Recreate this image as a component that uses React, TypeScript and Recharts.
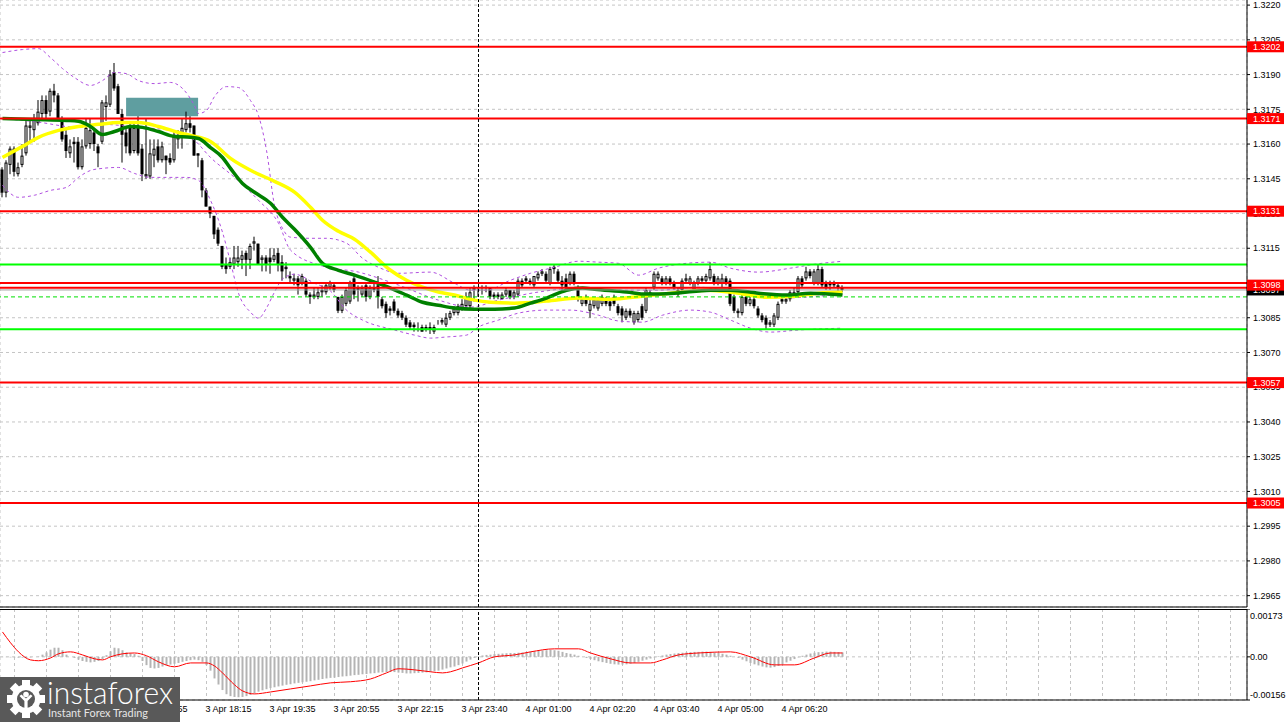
import React from "react";
import { Bar, CartesianGrid, ComposedChart, Line, ReferenceArea, ReferenceLine, XAxis, YAxis } from "recharts";

const FONT = '"Liberation Sans", Arial, sans-serif';

// 5 minute candles, bar 0 is the first one on the left
const opens = [
  1.3149, 1.3139, 1.3151, 1.3158, 1.3147, 1.3151, 1.3156, 1.3167, 1.3166, 1.3169,
  1.3173, 1.3179, 1.3174, 1.3183, 1.3181, 1.3171, 1.3164, 1.3156, 1.3161, 1.3161,
  1.3150, 1.3159, 1.3160, 1.3165, 1.3159, 1.3161, 1.3176, 1.3177, 1.3191, 1.3185,
  1.3173, 1.3165, 1.3168, 1.3157, 1.3168, 1.3158, 1.3146, 1.3146, 1.3155, 1.3159,
  1.3153, 1.3155, 1.3154, 1.3153, 1.3162, 1.3164, 1.3166, 1.3169, 1.3168, 1.3156,
  1.3153, 1.3140, 1.3133, 1.3129, 1.3123, 1.3116, 1.3108, 1.3107, 1.3108, 1.3109,
  1.3110, 1.3113, 1.3110, 1.3117, 1.3117, 1.3110, 1.3111, 1.3111, 1.3110, 1.3113,
  1.3109, 1.3106, 1.3103, 1.3101, 1.3102, 1.3100, 1.3101, 1.3095, 1.3094, 1.3094,
  1.3096, 1.3096, 1.3098, 1.3099, 1.3094, 1.3088, 1.3091, 1.3092, 1.3102, 1.3098,
  1.3095, 1.3099, 1.3094, 1.3098, 1.3099, 1.3093, 1.3091, 1.3089, 1.3092, 1.3088,
  1.3087, 1.3085, 1.3083, 1.3082, 1.3080, 1.3081, 1.3080, 1.3081, 1.3079, 1.3083,
  1.3083, 1.3082, 1.3085, 1.3087, 1.3087, 1.3089, 1.3090, 1.3090, 1.3097, 1.3097,
  1.3097, 1.3098, 1.3098, 1.3095, 1.3095, 1.3093, 1.3095, 1.3097, 1.3094, 1.3095,
  1.3101, 1.3102, 1.3101, 1.3099, 1.3102, 1.3104, 1.3104, 1.3100, 1.3106, 1.3105,
  1.3101, 1.3102, 1.3100, 1.3104, 1.3098, 1.3091, 1.3093, 1.3088, 1.3090, 1.3089,
  1.3091, 1.3093, 1.3092, 1.3094, 1.3090, 1.3089, 1.3085, 1.3088, 1.3083, 1.3084,
  1.3090, 1.3088, 1.3095, 1.3098, 1.3102, 1.3102, 1.3100, 1.3102, 1.3100, 1.3097,
  1.3097, 1.3101, 1.3100, 1.3097, 1.3100, 1.3102, 1.3101, 1.3102, 1.3103, 1.3100,
  1.3100, 1.3102, 1.3101, 1.3094, 1.3087, 1.3087, 1.3094, 1.3091, 1.3093, 1.3089,
  1.3086, 1.3085, 1.3082, 1.3082, 1.3085, 1.3093, 1.3092, 1.3093, 1.3095, 1.3096,
  1.3102, 1.3102, 1.3105, 1.3100, 1.3100, 1.3106, 1.3100, 1.3100, 1.3100, 1.3099, 1.3098,
];
const highs = [
  1.3150, 1.3153, 1.3159, 1.3159, 1.3152, 1.3160, 1.3171, 1.3171, 1.3173, 1.3179,
  1.3181, 1.3181, 1.3184, 1.3186, 1.3182, 1.3172, 1.3166, 1.3162, 1.3163, 1.3163,
  1.3162, 1.3171, 1.3171, 1.3167, 1.3160, 1.3179, 1.3181, 1.3192, 1.3195, 1.3186,
  1.3175, 1.3167, 1.3169, 1.3169, 1.3172, 1.3160, 1.3171, 1.3162, 1.3162, 1.3162,
  1.3161, 1.3155, 1.3156, 1.3166, 1.3166, 1.3171, 1.3174, 1.3172, 1.3168, 1.3156,
  1.3154, 1.3141, 1.3133, 1.3129, 1.3124, 1.3116, 1.3111, 1.3111, 1.3116, 1.3116,
  1.3114, 1.3114, 1.3117, 1.3120, 1.3117, 1.3112, 1.3112, 1.3115, 1.3115, 1.3115,
  1.3112, 1.3109, 1.3105, 1.3104, 1.3103, 1.3104, 1.3102, 1.3096, 1.3098, 1.3098,
  1.3099, 1.3100, 1.3101, 1.3100, 1.3094, 1.3095, 1.3098, 1.3101, 1.3104, 1.3099,
  1.3099, 1.3100, 1.3099, 1.3101, 1.3103, 1.3094, 1.3092, 1.3090, 1.3093, 1.3089,
  1.3088, 1.3086, 1.3084, 1.3083, 1.3083, 1.3082, 1.3082, 1.3083, 1.3082, 1.3084,
  1.3085, 1.3087, 1.3088, 1.3090, 1.3091, 1.3093, 1.3096, 1.3098, 1.3099, 1.3098,
  1.3099, 1.3099, 1.3098, 1.3096, 1.3096, 1.3096, 1.3098, 1.3097, 1.3097, 1.3102,
  1.3102, 1.3103, 1.3102, 1.3103, 1.3105, 1.3106, 1.3105, 1.3107, 1.3108, 1.3106,
  1.3103, 1.3104, 1.3105, 1.3105, 1.3099, 1.3094, 1.3095, 1.3093, 1.3094, 1.3094,
  1.3095, 1.3094, 1.3093, 1.3095, 1.3091, 1.3090, 1.3089, 1.3089, 1.3088, 1.3088,
  1.3091, 1.3098, 1.3097, 1.3105, 1.3105, 1.3103, 1.3103, 1.3103, 1.3101, 1.3098,
  1.3102, 1.3104, 1.3103, 1.3101, 1.3103, 1.3103, 1.3104, 1.3109, 1.3104, 1.3103,
  1.3104, 1.3103, 1.3102, 1.3095, 1.3089, 1.3096, 1.3095, 1.3094, 1.3094, 1.3090,
  1.3087, 1.3086, 1.3084, 1.3087, 1.3092, 1.3094, 1.3094, 1.3097, 1.3098, 1.3103,
  1.3103, 1.3107, 1.3106, 1.3106, 1.3108, 1.3107, 1.3101, 1.3101, 1.3101, 1.3100, 1.3099,
];
const lows = [
  1.3137, 1.3137, 1.3147, 1.3146, 1.3146, 1.3150, 1.3155, 1.3161, 1.3161, 1.3168,
  1.3171, 1.3170, 1.3172, 1.3178, 1.3170, 1.3161, 1.3154, 1.3154, 1.3152, 1.3149,
  1.3149, 1.3158, 1.3158, 1.3157, 1.3150, 1.3160, 1.3170, 1.3176, 1.3183, 1.3173,
  1.3152, 1.3156, 1.3155, 1.3156, 1.3155, 1.3144, 1.3145, 1.3145, 1.3150, 1.3152,
  1.3152, 1.3147, 1.3151, 1.3152, 1.3158, 1.3158, 1.3165, 1.3165, 1.3155, 1.3150,
  1.3137, 1.3133, 1.3128, 1.3119, 1.3116, 1.3106, 1.3104, 1.3106, 1.3106, 1.3107,
  1.3106, 1.3103, 1.3106, 1.3114, 1.3108, 1.3105, 1.3105, 1.3104, 1.3109, 1.3105,
  1.3101, 1.3102, 1.3100, 1.3099, 1.3095, 1.3099, 1.3094, 1.3091, 1.3093, 1.3093,
  1.3094, 1.3095, 1.3097, 1.3096, 1.3087, 1.3087, 1.3090, 1.3091, 1.3093, 1.3092,
  1.3094, 1.3092, 1.3093, 1.3096, 1.3089, 1.3089, 1.3085, 1.3086, 1.3087, 1.3085,
  1.3084, 1.3081, 1.3080, 1.3079, 1.3079, 1.3079, 1.3079, 1.3078, 1.3078, 1.3082,
  1.3082, 1.3081, 1.3084, 1.3086, 1.3086, 1.3088, 1.3089, 1.3089, 1.3092, 1.3094,
  1.3095, 1.3096, 1.3093, 1.3093, 1.3093, 1.3093, 1.3094, 1.3093, 1.3093, 1.3094,
  1.3098, 1.3100, 1.3099, 1.3098, 1.3101, 1.3103, 1.3100, 1.3099, 1.3104, 1.3100,
  1.3097, 1.3097, 1.3099, 1.3099, 1.3092, 1.3090, 1.3090, 1.3085, 1.3089, 1.3088,
  1.3090, 1.3090, 1.3088, 1.3090, 1.3086, 1.3083, 1.3084, 1.3085, 1.3082, 1.3083,
  1.3084, 1.3087, 1.3094, 1.3097, 1.3101, 1.3099, 1.3099, 1.3099, 1.3097, 1.3094,
  1.3096, 1.3100, 1.3099, 1.3096, 1.3099, 1.3100, 1.3100, 1.3101, 1.3099, 1.3099,
  1.3098, 1.3099, 1.3090, 1.3087, 1.3085, 1.3086, 1.3090, 1.3090, 1.3089, 1.3085,
  1.3083, 1.3080, 1.3081, 1.3081, 1.3084, 1.3091, 1.3091, 1.3092, 1.3094, 1.3095,
  1.3098, 1.3101, 1.3102, 1.3099, 1.3099, 1.3098, 1.3097, 1.3097, 1.3098, 1.3096, 1.3096,
];
const closes = [
  1.3139, 1.3152, 1.3158, 1.3148, 1.3150, 1.3155, 1.3168, 1.3168, 1.3171, 1.3174,
  1.3179, 1.3173, 1.3183, 1.3181, 1.3171, 1.3162, 1.3157, 1.3159, 1.3160, 1.3150,
  1.3159, 1.3167, 1.3166, 1.3160, 1.3156, 1.3178, 1.3178, 1.3190, 1.3184, 1.3173,
  1.3164, 1.3159, 1.3156, 1.3167, 1.3156, 1.3147, 1.3147, 1.3156, 1.3158, 1.3153,
  1.3159, 1.3153, 1.3152, 1.3164, 1.3164, 1.3167, 1.3169, 1.3167, 1.3155, 1.3155,
  1.3140, 1.3133, 1.3130, 1.3121, 1.3117, 1.3107, 1.3106, 1.3109, 1.3111, 1.3111,
  1.3112, 1.3110, 1.3116, 1.3118, 1.3108, 1.3111, 1.3108, 1.3109, 1.3112, 1.3108,
  1.3105, 1.3107, 1.3102, 1.3102, 1.3099, 1.3103, 1.3095, 1.3094, 1.3095, 1.3096,
  1.3097, 1.3099, 1.3100, 1.3097, 1.3088, 1.3094, 1.3097, 1.3100, 1.3095, 1.3097,
  1.3098, 1.3094, 1.3098, 1.3097, 1.3094, 1.3090, 1.3087, 1.3088, 1.3088, 1.3086,
  1.3085, 1.3082, 1.3081, 1.3081, 1.3080, 1.3079, 1.3081, 1.3080, 1.3081, 1.3083,
  1.3084, 1.3085, 1.3087, 1.3089, 1.3090, 1.3091, 1.3094, 1.3096, 1.3098, 1.3097,
  1.3097, 1.3098, 1.3094, 1.3094, 1.3094, 1.3095, 1.3097, 1.3094, 1.3096, 1.3101,
  1.3099, 1.3101, 1.3100, 1.3103, 1.3104, 1.3105, 1.3101, 1.3106, 1.3107, 1.3101,
  1.3099, 1.3098, 1.3104, 1.3100, 1.3093, 1.3093, 1.3091, 1.3091, 1.3093, 1.3093,
  1.3094, 1.3091, 1.3090, 1.3091, 1.3087, 1.3086, 1.3088, 1.3086, 1.3087, 1.3087,
  1.3085, 1.3097, 1.3096, 1.3104, 1.3104, 1.3100, 1.3102, 1.3100, 1.3098, 1.3095,
  1.3101, 1.3102, 1.3102, 1.3100, 1.3102, 1.3101, 1.3103, 1.3106, 1.3100, 1.3102,
  1.3102, 1.3100, 1.3091, 1.3088, 1.3088, 1.3094, 1.3091, 1.3093, 1.3090, 1.3086,
  1.3084, 1.3082, 1.3083, 1.3086, 1.3091, 1.3092, 1.3093, 1.3096, 1.3096, 1.3102,
  1.3099, 1.3105, 1.3103, 1.3105, 1.3106, 1.3099, 1.3098, 1.3099, 1.3099, 1.3098, 1.3097,
];

// indicator lines as [bar, value]
const maYellow = [
  [0, 1.31542], [5, 1.3159], [9, 1.31629], [14, 1.31659], [19, 1.31676], [24, 1.31685], [29, 1.31693],
  [34, 1.31693], [39, 1.31676], [44, 1.3165], [47, 1.31637], [52, 1.31611], [57, 1.31538], [63, 1.31478],
  [68, 1.31439], [73, 1.31392], [77, 1.31327], [80, 1.31271], [84, 1.31223], [88, 1.31189], [92, 1.31133],
  [97, 1.31055], [101, 1.31012], [105, 1.30982], [109, 1.30961], [113, 1.30948], [118, 1.30926],
  [122, 1.30917], [128, 1.30913], [136, 1.30922], [144, 1.30935], [152, 1.3093], [160, 1.30943],
  [167, 1.30956], [176, 1.30969], [184, 1.30956], [191, 1.30939], [198, 1.30943], [204, 1.30956], [210, 1.30961],
];
const maGreen = [
  [0, 1.3171], [8, 1.31706], [16, 1.31702], [19, 1.31698], [22, 1.31676], [25, 1.31641], [28, 1.31654],
  [32, 1.31676], [35, 1.31672], [39, 1.31654], [43, 1.31633], [47, 1.31629], [49, 1.31624], [52, 1.31585],
  [55, 1.31542], [57, 1.31495], [60, 1.3143], [63, 1.31392], [67, 1.31344], [70, 1.31284], [73, 1.31232],
  [77, 1.31154], [80, 1.31085], [84, 1.31055], [88, 1.31034], [93, 1.31004], [97, 1.30978], [101, 1.30948],
  [105, 1.30917], [109, 1.30904], [113, 1.30892], [118, 1.30887], [123, 1.30887], [128, 1.30892],
  [132, 1.30913], [136, 1.30935], [141, 1.30969], [145, 1.30978], [148, 1.30973], [156, 1.30961],
  [161, 1.30952], [168, 1.30956], [177, 1.30969], [182, 1.30969], [189, 1.30956], [196, 1.30948],
  [202, 1.30956], [210, 1.30948],
];
const bandUpper = [
  [0, 1.31995], [5, 1.32008], [9, 1.32012], [12, 1.31973], [15, 1.31926], [18, 1.31887], [22, 1.31853],
  [25, 1.31874], [28, 1.31909], [31, 1.31904], [34, 1.31874], [38, 1.31861], [42, 1.31866], [45, 1.3184],
  [48, 1.31766], [49, 1.31732], [51, 1.31745], [53, 1.31805], [56, 1.31848], [59, 1.31844], [62, 1.31788],
  [64, 1.31723], [66, 1.31573], [68, 1.31335], [70, 1.31236], [72, 1.31198], [77, 1.31193], [81, 1.31193],
  [86, 1.31172], [90, 1.31107], [94, 1.31068], [99, 1.31042], [107, 1.31047], [113, 1.30999], [117, 1.30969],
  [121, 1.30969], [127, 1.31012], [132, 1.31042], [138, 1.31068], [144, 1.31094], [149, 1.3109],
  [154, 1.31085], [159, 1.31034], [164, 1.31064], [171, 1.31085], [177, 1.3109], [182, 1.31064],
  [189, 1.31047], [197, 1.31064], [203, 1.31081], [210, 1.31094],
];
const bandMiddle = [
  [0, 1.3171], [8, 1.31697], [19, 1.31672], [25, 1.31685], [34, 1.31672], [42, 1.31659], [48, 1.31616],
  [52, 1.31542], [58, 1.31456], [64, 1.31357], [69, 1.31258], [72, 1.31142], [80, 1.31073], [89, 1.31047],
  [99, 1.30991], [109, 1.30926], [117, 1.30896], [124, 1.30926], [134, 1.30961], [144, 1.30978],
  [154, 1.30969], [164, 1.30969], [174, 1.30982], [184, 1.30956], [194, 1.30935], [210, 1.30952],
];
const bandLower = [
  [0, 1.31422], [4, 1.3137], [8, 1.31379], [12, 1.314], [16, 1.31413], [19, 1.31456], [22, 1.31486],
  [25, 1.31495], [29, 1.31499], [33, 1.31473], [37, 1.31456], [41, 1.31456], [46, 1.31456], [49, 1.31443],
  [52, 1.31357], [55, 1.31219], [57, 1.3109], [59, 1.30956], [62, 1.30874], [64, 1.30848], [66, 1.30892],
  [68, 1.30961], [70, 1.31017], [73, 1.31038], [78, 1.30999], [82, 1.30965], [86, 1.30883], [90, 1.3084],
  [98, 1.30797], [103, 1.30775], [107, 1.30762], [111, 1.30767], [116, 1.30775], [119, 1.3081],
  [124, 1.3084], [129, 1.3087], [136, 1.30883], [142, 1.30883], [149, 1.30861], [154, 1.30836],
  [160, 1.30831], [165, 1.30861], [172, 1.30883], [177, 1.30874], [182, 1.3084], [187, 1.30805],
  [192, 1.30788], [199, 1.30797], [210, 1.30805],
];

// MACD histogram, one value per bar
const macdHist = [
  -0.00001, -0.00001, -0.00002,
  -0.00002, -0.00003, -0.00003, -0.00003, -0.00002,
  0.0, 0.00001,
  0.00008, 0.00016, 0.00026, 0.00033, 0.00033, 0.00024,
  0.00008, 0.0, -0.00004,
  -0.0001, -0.00015, -0.00018, -0.0002, -0.00018, -0.00015, -0.00008,
  0.00006, 0.0002, 0.00033, 0.00031, 0.00024,
  0.00016, 0.00012, 0.0001, 0.00004,
  -0.00015, -0.0003, -0.0004, -0.00042, -0.0004, -0.00035, -0.0003, -0.00028,
  -0.00025, -0.00022, -0.00018, -0.00015, -0.00012, -0.0001, -0.00012, -0.00018,
  -0.0003, -0.0005, -0.00078, -0.001, -0.0012, -0.00135, -0.00142,
  -0.00145, -0.00146, -0.00145, -0.00142, -0.00138,
  -0.00132, -0.00126, -0.00121, -0.00117, -0.00113,
  -0.0011, -0.00107, -0.00104, -0.00101, -0.00099, -0.00096, -0.00094,
  -0.00092, -0.0009, -0.00088, -0.00085, -0.00083, -0.0008, -0.00078, -0.00076,
  -0.00075, -0.00073, -0.00071, -0.0007, -0.00068, -0.00066, -0.00065,
  -0.00063, -0.00062, -0.0006, -0.00059, -0.00057, -0.00056, -0.00055, -0.00054,
  -0.00055, -0.00057, -0.00058, -0.0006, -0.0006,
  -0.00059, -0.00058, -0.00057, -0.00056, -0.00054, -0.00052, -0.0005, -0.00046,
  -0.00042, -0.00038, -0.00035, -0.0003, -0.00024, -0.00017, -0.0001, -0.00004,
  0.00002, 0.00005, 0.00007, 0.00008, 0.0001,
  0.00011, 0.00012, 0.00013, 0.00014, 0.00014, 0.00015, 0.00016, 0.00017, 0.00019,
  0.0002, 0.00022, 0.00023, 0.00024, 0.00025, 0.00024, 0.00022,
  0.00018, 0.00014, 0.00011, 0.00008, 0.00004,
  0.0, -0.00004, -0.00008, -0.00012,
  -0.00016, -0.00019, -0.00022, -0.00025, -0.00027, -0.00028, -0.00028, -0.00027, -0.00025, -0.00022, -0.00018, -0.00014, -0.0001,
  -0.00006, -0.00002, 0.00002,
  0.00005, 0.00008, 0.0001, 0.00012, 0.00014, 0.00015,
  0.00016, 0.00017, 0.00018, 0.00018, 0.00019, 0.00019, 0.00018, 0.00016, 0.00014, 0.00011, 0.00008,
  0.00004, 0.0, -0.00004, -0.0001, -0.00016,
  -0.00022, -0.00027, -0.00031, -0.00035, -0.00038, -0.00039, -0.00037, -0.00033, -0.00027,
  -0.0002, -0.00014, -0.00008, -0.00002, 0.00004,
  0.00008, 0.00012, 0.00015, 0.00017, 0.00018, 0.00019, 0.00019, 0.00018, 0.00017, 0.00016,
];
const macdSignal = [
  [0, 0.0009], [2, 0.00051], [4, 0.00018], [7, -0.00011], [9, -0.00014], [12, -0.00004], [14, 0.00011],
  [17, 0.00018], [20, 0.00007], [23, -0.00007], [25, -0.00011], [27, 0.0], [30, 0.00011], [33, 0.00014],
  [36, 0.00004], [39, -0.00018], [43, -0.00036], [47, -0.00022], [51, -0.00022], [53, -0.00033],
  [55, -0.00058], [58, -0.00101], [60, -0.00123], [63, -0.00134], [67, -0.00127], [72, -0.00116],
  [77, -0.00105], [82, -0.00094], [87, -0.0009], [92, -0.0008], [96, -0.00058], [99, -0.00043],
  [103, -0.00047], [107, -0.00054], [110, -0.00058], [112, -0.00054], [115, -0.0004], [119, -0.00022],
  [123, 0.0], [128, 0.00007], [132, 0.00018], [138, 0.00029], [144, 0.00029], [147, 0.00014],
  [152, -0.00007], [157, -0.00022], [162, -0.00022], [165, -0.00011], [169, 0.00007], [174, 0.00014],
  [182, 0.00018], [187, 0.0], [193, -0.00029], [198, -0.00029], [203, -0.00004], [207, 0.00014], [210, 0.00014],
];

const priceTicks = [
  1.2965, 1.298, 1.2995, 1.301, 1.3025, 1.304, 1.3055, 1.307, 1.3085,
  1.31, 1.3115, 1.313, 1.3145, 1.316, 1.3175, 1.319, 1.3205, 1.322,
];
const macdTicks = [-0.00156, 0, 0.00173];
const gridBars = [
  3, 11, 19, 27, 35, 43, 51, 59, 67, 75, 83, 91, 99, 107, 115, 123, 131, 139, 147, 155,
  163, 171, 179, 187, 195, 203, 211, 219, 227, 235, 243, 251, 259, 267, 275, 283, 291, 299, 307,
];
const timeTickBars = [3, 19, 35, 51, 67, 83, 99, 115, 131, 147, 163, 179, 195];
const timeTickLabels = [
  "3 Apr 14:15", "3 Apr 15:35", "3 Apr 16:55", "3 Apr 18:15", "3 Apr 19:35", "3 Apr 20:55", "3 Apr 22:15",
  "3 Apr 23:40", "4 Apr 01:00", "4 Apr 02:20", "4 Apr 03:40", "4 Apr 05:00", "4 Apr 06:20",
];

const redLevels = [1.3202, 1.3171, 1.3131, 1.31, 1.3098, 1.3057, 1.3005];
const taggedRedLevels = [1.3202, 1.3171, 1.3131, 1.3098, 1.3057, 1.3005];
const greenLevels = [1.3108, 1.308];
const greenDashedLevel = 1.3094;
const bidPrice = 1.3097;
const zoneBars = [30.9, 48.9];
const zonePrices = [1.3172, 1.318];
const separatorBar = 119;

const X_DOMAIN: [number, number] = [-0.625, 311.125];
const PRICE_DOMAIN: [number, number] = [1.29601, 1.32222];
const MACD_DOMAIN: [number, number] = [-0.00156, 0.00173];
const NO_MARGIN = { top: 0, right: 0, bottom: 0, left: 0 };

const candles = opens.map((o, i) => ({ i, o, h: highs[i], l: lows[i], c: closes[i] }));
const macdRows = macdHist.map((hist, i) => ({ i, hist }));
const rows = (pts: number[][]) => pts.map(([i, v]) => ({ i, v }));

function Candle(props: any) {
  const { x, y, width, height, payload } = props;
  const { o, h, l, c } = payload;
  const cx = x + width / 2;
  const k = h === l ? 0 : height / (h - l);
  const top = y + (h - Math.max(o, c)) * k;
  const bot = y + (h - Math.min(o, c)) * k;
  const bodyH = Math.max(bot - top, 1);
  return (
    <g>
      <line x1={cx} x2={cx} y1={y} y2={y + height} stroke="#000" strokeWidth={1} />
      {c >= o ? (
        <rect x={cx - 1} y={top + 0.5} width={2} height={Math.max(bodyH - 1, 0)} fill="#fff" stroke="#000" strokeWidth={1} />
      ) : (
        <rect x={cx - 1.5} y={top} width={3} height={bodyH} fill="#000" />
      )}
    </g>
  );
}

function PriceTick({ x, y, payload }: any) {
  return (
    <text x={x} y={y} dy="0.355em" fontSize={9} fontFamily={FONT} fill="#000" textAnchor="start">
      {Number(payload.value).toFixed(4)}
    </text>
  );
}

function MacdTick({ x, y, payload }: any) {
  const v = Number(payload.value);
  const label = v === 0 ? "0.00" : v.toFixed(5);
  const shift = v > 0 ? 7 : v < 0 ? -5 : 0;
  return (
    <text x={x - 3} y={y + shift} dy="0.355em" fontSize={9} fontFamily={FONT} fill="#000" textAnchor="start">
      {label}
    </text>
  );
}

function TimeTick({ x, y, payload }: any) {
  const k = timeTickBars.indexOf(payload.value);
  if (k < 0) return <g />;
  return (
    <text x={x - 1} y={y} dy="0.71em" fontSize={9} fontFamily={FONT} fill="#000" textAnchor="start">
      {timeTickLabels[k]}
    </text>
  );
}

function PriceTag({ viewBox, text, bg, shift = 0 }: any) {
  if (!viewBox) return null;
  const x = viewBox.x + viewBox.width;
  const y = viewBox.y + shift;
  return (
    <g>
      <rect x={x} y={y - 5.5} width={37} height={11} fill={bg} />
      <text x={x + 6} y={y} dy="0.355em" fontSize={9} fontFamily={FONT} fill="#fff">
        {text}
      </text>
    </g>
  );
}

function Logo() {
  return (
    <div style={{ position: "absolute", left: 0, top: 677, width: 180, height: 45, background: "#595959", zIndex: 5 }}>
      <svg width={180} height={45}>
        <g transform="translate(26,22)">
          {[0, 45, 90, 135, 180, 225, 270, 315].map((a) => (
            <rect key={a} x={-4} y={-19} width={8} height={8} fill="#fff" transform={`rotate(${a})`} />
          ))}
          <circle r={14.5} fill="#fff" />
          <circle r={9} fill="#595959" />
          <circle cx={0} cy={-4.5} r={2.8} fill="#fff" />
          <path d="M-6.5 -3 L-1.6 2 L-1.6 9.5 L1.6 9.5 L1.6 2 L6.5 -3 L4.6 -4.5 L0 -0.5 L-4.6 -4.5 Z" fill="#fff" />
        </g>
        <text x={47} y={27} fill="#fff" fontFamily="Lato, 'Open Sans', sans-serif" fontWeight={300} fontSize={31}
          textLength={126} lengthAdjust="spacingAndGlyphs">instaforex</text>
        <text x={48} y={40} fill="#e6e6e6" fontFamily="Lato, 'Open Sans', sans-serif" fontSize={11}
          textLength={100} lengthAdjust="spacingAndGlyphs">Instant Forex Trading</text>
      </svg>
    </div>
  );
}

export default function App() {
  const lineProps = { type: "monotone" as const, dot: false, activeDot: false, isAnimationActive: false, dataKey: "v" };
  return (
    <div style={{ position: "fixed", left: 0, top: 0, width: 1287, height: 722, background: "#fff", overflow: "hidden" }}>
      <div style={{ position: "absolute", left: 0, top: 0 }}>
        <ComposedChart width={1287} height={608} data={candles} margin={NO_MARGIN}>
          <CartesianGrid stroke="#c4c4c4" strokeDasharray="3 3" />
          <XAxis type="number" dataKey="i" domain={X_DOMAIN} allowDataOverflow ticks={gridBars} interval={0}
            height={1} tick={false} tickLine={false} axisLine={{ stroke: "#000" }} />
          <YAxis orientation="right" width={40} domain={PRICE_DOMAIN} allowDataOverflow ticks={priceTicks} interval={0}
            tick={<PriceTick />} tickSize={3} tickMargin={3} axisLine={{ stroke: "#000" }} tickLine={{ stroke: "#000" }} />

          <Line {...lineProps} data={rows(bandUpper)} stroke="#b050e0" strokeWidth={1} strokeDasharray="3 3" />
          <Line {...lineProps} data={rows(bandMiddle)} stroke="#b050e0" strokeWidth={1} strokeDasharray="3 3" />
          <Line {...lineProps} data={rows(bandLower)} stroke="#b050e0" strokeWidth={1} strokeDasharray="3 3" />
          <Line {...lineProps} data={rows(maYellow)} stroke="#ffff00" strokeWidth={3.5} />
          <Line {...lineProps} data={rows(maGreen)} stroke="#008000" strokeWidth={3.5} />

          <Bar dataKey={(d: any) => [d.l, d.h]} barSize={3} shape={<Candle />} isAnimationActive={false} />

          {greenLevels.map((p) => (
            <ReferenceLine key={`g${p}`} y={p} stroke="#00ff00" strokeWidth={2} />
          ))}
          <ReferenceLine y={greenDashedLevel} stroke="#00e000" strokeWidth={1} strokeDasharray="4 3" />
          <ReferenceLine y={bidPrice} stroke="#a0a0a0" strokeWidth={1} />
          {redLevels.map((p) => (
            <ReferenceLine key={`r${p}`} y={p} stroke="#ff0000" strokeWidth={2} />
          ))}
          <ReferenceArea x1={zoneBars[0]} x2={zoneBars[1]} y1={zonePrices[0]} y2={zonePrices[1]}
            fill="#5f9ea0" fillOpacity={1} stroke="none" />
          <ReferenceLine x={separatorBar} stroke="#000" strokeDasharray="3 2" />
        </ComposedChart>
      </div>

      {/* price tags on the axis, drawn over the tick labels */}
      <div style={{ position: "absolute", left: 0, top: 0, pointerEvents: "none", zIndex: 3 }}>
        <ComposedChart width={1287} height={608} data={candles} margin={NO_MARGIN}>
          <XAxis type="number" dataKey="i" domain={X_DOMAIN} allowDataOverflow height={1} tick={false} tickLine={false} axisLine={false} />
          <YAxis orientation="right" width={40} domain={PRICE_DOMAIN} allowDataOverflow tick={false} tickLine={false} axisLine={false} />
          <ReferenceLine y={bidPrice} stroke="none" label={<PriceTag text={bidPrice.toFixed(4)} bg="#000" />} />
          {taggedRedLevels.map((p) => (
            <ReferenceLine key={`t${p}`} y={p} stroke="none"
              label={<PriceTag text={p.toFixed(4)} bg="#ff0000" shift={p === 1.3098 ? -2.5 : 0} />} />
          ))}
        </ComposedChart>
      </div>

      <div style={{ position: "absolute", left: 0, top: 609, width: 1247, height: 1, background: "#000", zIndex: 2 }} />

      <div style={{ position: "absolute", left: 0, top: 609 }}>
        <ComposedChart width={1287} height={113} data={macdRows} margin={NO_MARGIN}>
          <CartesianGrid stroke="#c4c4c4" strokeDasharray="3 3" />
          <XAxis type="number" dataKey="i" domain={X_DOMAIN} allowDataOverflow ticks={gridBars} interval={0}
            height={22} tick={<TimeTick />} tickLine={false} tickSize={3} tickMargin={3} axisLine={{ stroke: "#000" }} />
          <YAxis orientation="right" width={40} domain={MACD_DOMAIN} allowDataOverflow ticks={macdTicks} interval={0}
            tick={<MacdTick />} tickSize={3} tickMargin={3} axisLine={{ stroke: "#000" }} tickLine={{ stroke: "#000" }} />
          <Bar dataKey="hist" barSize={2} fill="#b4b4b4" isAnimationActive={false} />
          <Line {...lineProps} data={rows(macdSignal)} stroke="#ff0000" strokeWidth={1} />
          <ReferenceLine x={separatorBar} stroke="#000" strokeDasharray="3 2" />
        </ComposedChart>
      </div>

      <Logo />
    </div>
  );
}
